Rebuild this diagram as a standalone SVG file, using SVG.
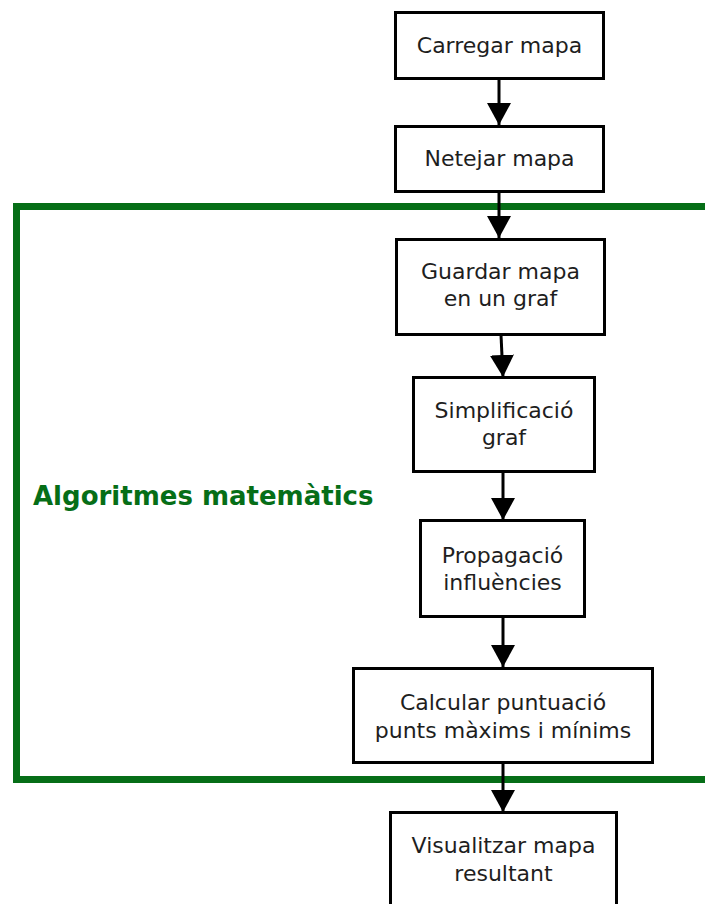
<svg xmlns="http://www.w3.org/2000/svg" width="705" height="904" viewBox="0 0 705 904">
  <style>
    .box { fill: #ffffff; stroke: #000000; stroke-width: 3; }
    .lbl { font-family: "DejaVu Sans", "Liberation Sans", sans-serif; font-size: 22px; fill: #1e1e1e; text-anchor: middle; }
    .group-frame { fill: none; stroke: #066e17; stroke-width: 7; }
    .group-title { font-family: "DejaVu Sans", "Liberation Sans", sans-serif; font-size: 26px; font-weight: bold; fill: #066e17; }
    .edge { stroke: #000000; stroke-width: 3; fill: none; marker-end: url(#arrow); }
  </style>
  <defs>
    <marker id="arrow" viewBox="0 0 22 24" markerUnits="userSpaceOnUse" markerWidth="22" markerHeight="24" refX="22" refY="12" orient="auto">
      <path d="M0,0 L22,12 L0,24 z" fill="#000000"/>
    </marker>
  </defs>

  <rect width="705" height="904" fill="#ffffff"/>

  <!-- cluster: mathematical algorithms -->
  <g id="cluster-algoritmes">
    <rect class="group-frame" x="16.5" y="206.5" width="730" height="573"/>
    <text class="group-title" x="33" y="505">Algoritmes matemàtics</text>
  </g>

  <g id="connectors">
    <path class="edge" d="M499,79 L499,125"/>
    <path class="edge" d="M499,192 L499,238"/>
    <path class="edge" d="M501,335 L503,377"/>
    <path class="edge" d="M503,472 L503,520"/>
    <path class="edge" d="M503,617 L503,667"/>
    <path class="edge" d="M503,763 L503,812"/>
  </g>

  <g id="carregar">
    <rect class="box" x="395.5" y="12.5" width="208" height="66"/>
    <text class="lbl" x="499.5" y="53">Carregar mapa</text>
  </g>

  <g id="netejar">
    <rect class="box" x="395.5" y="126.5" width="208" height="65"/>
    <text class="lbl" x="499.5" y="166">Netejar mapa</text>
  </g>

  <g id="guardar">
    <rect class="box" x="396.5" y="239.5" width="208" height="95"/>
    <text class="lbl" x="500.5" y="279">Guardar mapa</text>
    <text class="lbl" x="500.5" y="306">en un graf</text>
  </g>

  <g id="simplificacio">
    <rect class="box" x="413.5" y="377.5" width="181" height="94"/>
    <text class="lbl" x="504" y="418">Simplificació</text>
    <text class="lbl" x="504" y="445">graf</text>
  </g>

  <g id="propagacio">
    <rect class="box" x="420.5" y="520.5" width="164" height="96"/>
    <text class="lbl" x="502.5" y="563">Propagació</text>
    <text class="lbl" x="502.5" y="590">influències</text>
  </g>

  <g id="calcular">
    <rect class="box" x="353.5" y="668.5" width="299" height="94"/>
    <text class="lbl" x="503" y="710">Calcular puntuació</text>
    <text class="lbl" x="503" y="738">punts màxims i mínims</text>
  </g>

  <g id="visualitzar">
    <rect class="box" x="390.5" y="812.5" width="226" height="110"/>
    <text class="lbl" x="503.5" y="853">Visualitzar mapa</text>
    <text class="lbl" x="503.5" y="881">resultant</text>
  </g>
</svg>
